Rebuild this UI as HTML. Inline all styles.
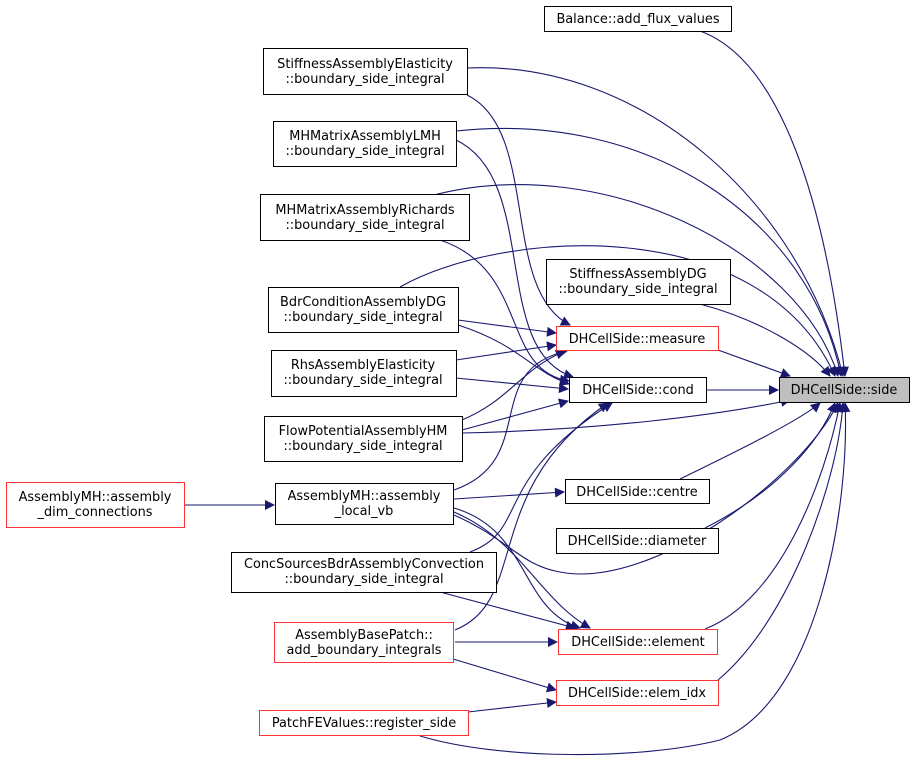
<!DOCTYPE html>
<html><head><meta charset="utf-8"><style>
body{margin:0;background:#fff}
svg text{font-family:"DejaVu Sans","Liberation Sans",sans-serif;font-size:12.9px;fill:#000}
</style></head><body>
<svg width="915" height="768" viewBox="0 0 915 768" xmlns="http://www.w3.org/2000/svg">
<defs><marker id="a" viewBox="0 0 10 10" refX="9" refY="5" markerWidth="11" markerHeight="10" markerUnits="userSpaceOnUse" orient="auto"><path d="M0,0L10,5L0,10z" fill="#191970"/></marker></defs>
<g fill="none" stroke="#191970" stroke-width="1.1" marker-end="url(#a)">
<path d="M700,31C780,60 825,200 845,376"/>
<path d="M467,68C640,60 800,200 843,376"/>
<path d="M456,131C650,110 810,220 841,376"/>
<path d="M430,196C600,150 800,250 838,376"/>
<path d="M400,287C500,230 760,210 835,376"/>
<path d="M700,304C760,320 810,350 830,376"/>
<path d="M718,350L790,376"/>
<path d="M706,390L778,390"/>
<path d="M462,433C600,430 720,415 790,400"/>
<path d="M680,479C740,450 800,420 820,403"/>
<path d="M705,528C780,490 820,440 835,403"/>
<path d="M454,515C510,540 520,565 560,572C650,590 800,480 838,403"/>
<path d="M705,629C780,600 825,480 840,403"/>
<path d="M718,680C790,620 838,480 843,403"/>
<path d="M420,736C500,760 640,760 720,740C820,700 850,500 845,403"/>
<path d="M467,95C540,130 500,290 570,325"/>
<path d="M458,320L556,333"/>
<path d="M456,360L556,345"/>
<path d="M462,420C510,400 520,370 565,351"/>
<path d="M454,490C540,460 480,370 567,351"/>
<path d="M456,140C540,180 490,350 573,377"/>
<path d="M440,240C530,270 500,370 569,381"/>
<path d="M458,325C520,345 530,370 569,384"/>
<path d="M456,378L568,389"/>
<path d="M462,430L568,401"/>
<path d="M470,552C530,530 490,480 612,403"/>
<path d="M455,630C530,600 480,490 608,403"/>
<path d="M454,508C530,530 520,610 580,628"/>
<path d="M454,512C520,540 540,600 590,628"/>
<path d="M440,592L575,628"/>
<path d="M455,642L557,642"/>
<path d="M453,659L556,690"/>
<path d="M468,712L556,702"/>
<path d="M454,499L564,492"/>
<path d="M184,505L274,505"/>
</g>
<g stroke-width="1" fill="#fff">
<rect x="544.5" y="6.5" width="187" height="25" stroke="#000"/>
<rect x="263.5" y="48.5" width="204" height="46" stroke="#000"/>
<rect x="273.5" y="121.5" width="183" height="45" stroke="#000"/>
<rect x="260.5" y="194.5" width="209" height="46" stroke="#000"/>
<rect x="546.5" y="259.5" width="184" height="45" stroke="#000"/>
<rect x="268.5" y="287.5" width="190" height="45" stroke="#000"/>
<rect x="556.5" y="326.5" width="162" height="24" stroke="#f33"/>
<rect x="271.5" y="350.5" width="185" height="46" stroke="#000"/>
<rect x="569.5" y="377.5" width="137" height="25" stroke="#000"/>
<rect x="779.5" y="377.5" width="130" height="25" stroke="#000" fill="#bfbfbf"/>
<rect x="264.5" y="416.5" width="198" height="45" stroke="#000"/>
<rect x="6.5" y="482.5" width="178" height="45" stroke="#f33"/>
<rect x="275.5" y="483.5" width="178" height="41" stroke="#000"/>
<rect x="565.5" y="479.5" width="144" height="24" stroke="#000"/>
<rect x="556.5" y="528.5" width="162" height="25" stroke="#000"/>
<rect x="231.5" y="552.5" width="265" height="40" stroke="#000"/>
<rect x="274.5" y="622.5" width="179" height="40" stroke="#f33"/>
<rect x="558.5" y="629.5" width="159" height="25" stroke="#f33"/>
<rect x="556.5" y="680.5" width="162" height="25" stroke="#f33"/>
<rect x="259.5" y="710.5" width="209" height="25" stroke="#f33"/>
</g>
<g text-anchor="middle">
<text x="638" y="23">Balance::add_flux_values</text>
<text x="365" y="68">StiffnessAssemblyElasticity</text><text x="365" y="83">::boundary_side_integral</text>
<text x="365" y="140">MHMatrixAssemblyLMH</text><text x="365" y="155">::boundary_side_integral</text>
<text x="365" y="214">MHMatrixAssemblyRichards</text><text x="365" y="229">::boundary_side_integral</text>
<text x="638" y="278">StiffnessAssemblyDG</text><text x="638" y="293">::boundary_side_integral</text>
<text x="363" y="306">BdrConditionAssemblyDG</text><text x="363" y="321">::boundary_side_integral</text>
<text x="637" y="343">DHCellSide::measure</text>
<text x="363" y="369">RhsAssemblyElasticity</text><text x="363" y="384">::boundary_side_integral</text>
<text x="638" y="394">DHCellSide::cond</text>
<text x="844" y="394">DHCellSide::side</text>
<text x="363" y="435">FlowPotentialAssemblyHM</text><text x="363" y="450">::boundary_side_integral</text>
<text x="95" y="501">AssemblyMH::assembly</text><text x="95" y="516">_dim_connections</text>
<text x="364" y="500">AssemblyMH::assembly</text><text x="364" y="515">_local_vb</text>
<text x="637" y="496">DHCellSide::centre</text>
<text x="637" y="545">DHCellSide::diameter</text>
<text x="364" y="568">ConcSourcesBdrAssemblyConvection</text><text x="364" y="583">::boundary_side_integral</text>
<text x="364" y="639">AssemblyBasePatch::</text><text x="364" y="654">add_boundary_integrals</text>
<text x="638" y="646">DHCellSide::element</text>
<text x="637" y="697">DHCellSide::elem_idx</text>
<text x="364" y="727">PatchFEValues::register_side</text>
</g>
</svg>
</body></html>
